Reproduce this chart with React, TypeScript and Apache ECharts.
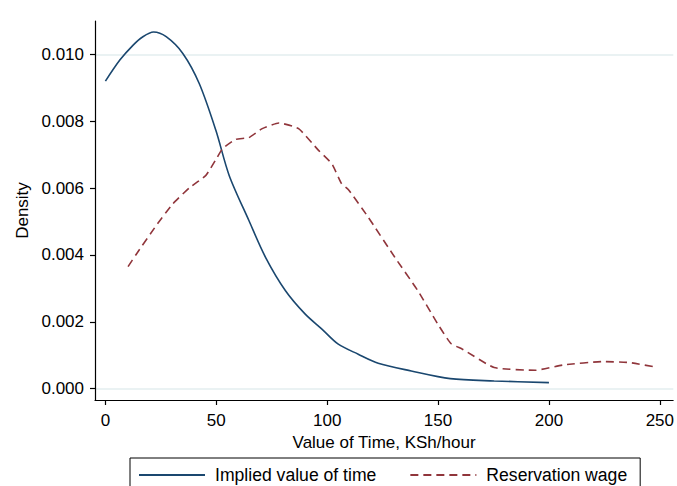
import React, { useEffect, useRef } from "react";
import * as echarts from "echarts";

const seriesNames = ["Implied value of time", "Reservation wage"];

const impliedX = [0, 6.5, 12.5, 16.9, 21.7, 27.4, 34.9, 42.3, 49.8, 55.8, 64.7, 72.2, 81.2, 90.1, 97.5, 105, 114, 123, 137.9, 155.5, 175.3, 200];
const impliedY = [0.0092, 0.00983, 0.01028, 0.01053, 0.01067, 0.01053, 0.01003, 0.00913, 0.00773, 0.00638, 0.00503, 0.00393, 0.00293, 0.00223, 0.00179, 0.00133, 0.00103, 0.00076, 0.00053, 0.0003, 0.00023, 0.00018];

const reservX = [10.2, 14, 22.9, 30.4, 37.9, 45.3, 50.4, 52.8, 58.8, 64.7, 70.7, 78.2, 87.1, 96.1, 102.1, 106.5, 109.5, 118.5, 130.5, 140.9, 149.9, 155.8, 161, 175.3, 193.9, 206.6, 224.5, 236.3, 247.7];
const reservY = [0.00365, 0.00403, 0.00488, 0.00553, 0.00601, 0.00638, 0.00692, 0.00718, 0.00746, 0.00751, 0.00778, 0.00795, 0.00778, 0.00713, 0.00673, 0.00613, 0.00596, 0.00513, 0.00393, 0.00293, 0.00193, 0.00135, 0.00118, 0.00063, 0.00055, 0.00071, 0.00081, 0.00078, 0.00065];

const xTicks = [0, 50, 100, 150, 200, 250];
const yTicks = [0, 0.002, 0.004, 0.006, 0.008, 0.01];

const FONT = "Liberation Sans, Arial, sans-serif";

export default function App() {
  const ref = useRef<HTMLDivElement>(null);
  useEffect(() => {
    const chart = echarts.init(ref.current!, null, { renderer: "svg" });
    const pair = (xs: number[], ys: number[]) => xs.map((x, i) => [x, ys[i]]);
    chart.setOption({
      animation: false,
      backgroundColor: "#ffffff",
      grid: { left: 95, top: 21, width: 582, height: 379, containLabel: false },
      legend: {
        data: seriesNames,
        left: 130,
        top: 458,
        orient: "horizontal",
        itemWidth: 66,
        itemHeight: 14,
        itemGap: 33,
        padding: [8, 13, 30, 8],
        borderColor: "#000",
        borderWidth: 1,
        itemStyle: { opacity: 0 },
        textStyle: { fontSize: 17.6, fontFamily: FONT, color: "#000", padding: [0, 0, 0, 5] },
      },
      xAxis: {
        type: "value",
        min: -4.7,
        max: 256,
        name: "Value of Time, KSh/hour",
        nameLocation: "middle",
        nameGap: 24,
        nameTextStyle: { fontSize: 17, fontFamily: FONT, color: "#000" },
        axisLine: { show: true, onZero: false, lineStyle: { color: "#000", width: 1.2 } },
        axisTick: { show: true, customValues: xTicks, length: 5, lineStyle: { color: "#000", width: 1.2 } },
        axisLabel: { customValues: xTicks, fontSize: 17, fontFamily: FONT, color: "#000", margin: 12, formatter: (v: number) => String(v) },
        splitLine: { show: false },
      },
      yAxis: {
        type: "value",
        min: -0.00034,
        max: 0.011,
        name: "Density",
        nameLocation: "middle",
        nameGap: 62,
        nameTextStyle: { fontSize: 17, fontFamily: FONT, color: "#000" },
        axisLine: { show: true, onZero: false, lineStyle: { color: "#000", width: 1.2 } },
        axisTick: { show: true, customValues: yTicks, length: 5, lineStyle: { color: "#000", width: 1.2 } },
        axisLabel: { customValues: yTicks, fontSize: 17, fontFamily: FONT, color: "#000", margin: 11, formatter: (v: number) => v.toFixed(3) },
        splitLine: { show: false },
      },
      series: [
        {
          name: "grid",
          type: "line",
          data: [],
          z: 0,
          silent: true,
          markLine: {
            silent: true,
            z: 0,
            symbol: ["none", "none"],
            label: { show: false },
            lineStyle: { color: "#eaf2f3", width: 1.5, type: "solid" },
            data: yTicks.map((v) => ({ yAxis: v })),
          },
        },
        {
          name: seriesNames[0],
          type: "line",
          data: pair(impliedX, impliedY),
          showSymbol: false,
          symbol: "none",
          smooth: 0.3,
          z: 3,
          lineStyle: { color: "#1a476f", width: 1.6, type: "solid" },
          itemStyle: { color: "#1a476f" },
        },
        {
          name: seriesNames[1],
          type: "line",
          data: pair(reservX, reservY),
          showSymbol: false,
          symbol: "none",
          smooth: 0.15,
          z: 3,
          lineStyle: { color: "#90353b", width: 1.6, type: [8, 5] },
          itemStyle: { color: "#90353b" },
        },
      ],
    });
    return () => chart.dispose();
  }, []);
  return (
    <div
      ref={ref}
      style={{ position: "fixed", left: 0, top: 0, width: 677, height: 486, background: "#fff" }}
    />
  );
}
